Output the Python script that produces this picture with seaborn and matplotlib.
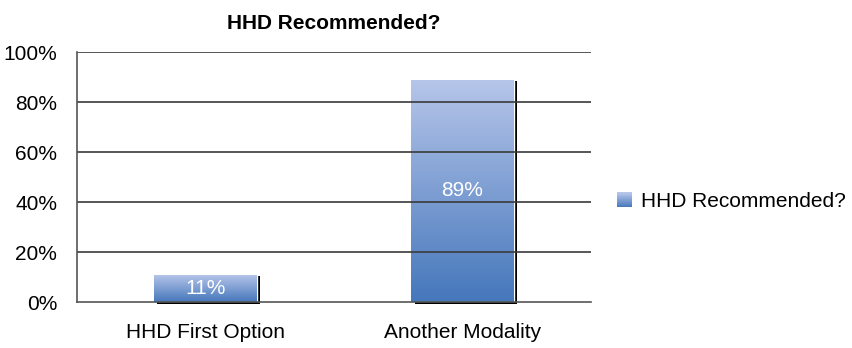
import matplotlib
matplotlib.use("Agg")
import matplotlib.pyplot as plt
import matplotlib.transforms as mtransforms
from matplotlib.patches import Rectangle, Patch
from matplotlib.legend_handler import HandlerBase
from matplotlib.colors import LinearSegmentedColormap
import numpy as np
import pandas as pd
import seaborn as sn

categories = ["HHD First Option", "Another Modality"]
values = [11, 89]
series_name = "HHD Recommended?"
yticks = [0, 20, 40, 60, 80, 100]

sn.set_style("white")
plt.rcParams['font.family'] = ['Liberation Sans', 'DejaVu Sans']
plt.rcParams['text.color'] = 'black'
plt.rcParams['xtick.labelcolor'] = 'black'
plt.rcParams['ytick.labelcolor'] = 'black'

top_col = "#b7c6ea"
bot_col = "#4577bb"
grad = LinearSegmentedColormap.from_list("bar", [bot_col, top_col])
FS = 15


class GradientHandler(HandlerBase):
    # legend swatch drawn as horizontal stripes of the bar gradient
    def create_artists(self, legend, orig_handle, xdescent, ydescent,
                       width, height, fontsize, trans):
        n = 20
        arts = []
        for k in range(n):
            r = Rectangle((-xdescent, -ydescent + height * k / n), width, height / n + 0.3,
                          facecolor=grad(k / (n - 1)), edgecolor="none", transform=trans)
            arts.append(r)
        return arts


df = pd.DataFrame({"cat": categories, "val": values})

fig = plt.figure(figsize=(8.53, 3.48), dpi=100)
ax = fig.add_axes([0.09, 0.132, 0.603, 0.718])

sn.barplot(data=df, x="cat", y="val", ax=ax, width=0.4, color=bot_col,
           saturation=1, zorder=3)

# gradient fill + black shadow for each bar
shadow_tr = mtransforms.offset_copy(ax.transData, fig=fig, x=3.5, y=-1.5, units='dots')
for p in ax.patches[:]:
    x0, y0 = p.get_x(), p.get_y()
    w, h = p.get_width(), p.get_height()
    sh = Rectangle((x0, y0), w, h, facecolor="black", edgecolor="none",
                   transform=shadow_tr, zorder=2.5, clip_on=False)
    ax.add_patch(sh)
    img = ax.imshow(np.linspace(0, 1, 256).reshape(-1, 1), cmap=grad,
                    extent=[x0, x0 + w, y0, y0 + h], origin="lower",
                    aspect="auto", zorder=3.1)
    img.set_clip_path(p)
    ax.text(x0 + w / 2, y0 + h / 2, f"{h:.0f}%", color="white",
            ha="center", va="center", fontsize=FS, zorder=5)

ax.set_aspect("auto")
ax.set_xlim(-0.5, 1.5)
ax.set_ylim(0, 100)

# gridlines sit on top of the bars, like the original
for t in yticks[1:]:
    ax.axhline(t, color="#3a3a3a", linewidth=1.2, zorder=4)

ax.set_yticks(yticks)
ax.set_yticklabels([f"{t}%" for t in yticks], fontsize=FS)

ax.set_xticks([0, 1])
ax.set_xticklabels(categories, fontsize=FS)
ax.set_xticks([-0.5, 0.5, 1.5], minor=True)
ax.tick_params(axis="x", which="major", length=0, pad=15)
ax.tick_params(axis="x", which="minor", length=9, width=1.2, color="#555555", direction="out")
ax.tick_params(axis="y", length=8, width=1.2, color="#555555", direction="out", pad=6)

for s in ["top", "right"]:
    ax.spines[s].set_visible(False)
for s in ["left", "bottom"]:
    ax.spines[s].set_color("#555555")
    ax.spines[s].set_linewidth(1.2)
    ax.spines[s].set_zorder(4.5)

ax.set_xlabel("")
ax.set_ylabel("")
ax.set_title("HHD Recommended?", fontsize=FS, fontweight="bold", pad=17)

handle = Patch(facecolor="#6a8fd0", edgecolor="none")
fig.legend([handle], [series_name], loc="center left", bbox_to_anchor=(0.723, 0.42),
           frameon=False, fontsize=FS, handlelength=0.72, handleheight=0.72,
           handletextpad=0.45, borderpad=0, borderaxespad=0,
           handler_map={Patch: GradientHandler()})

fig.savefig("out.png", dpi=100)
